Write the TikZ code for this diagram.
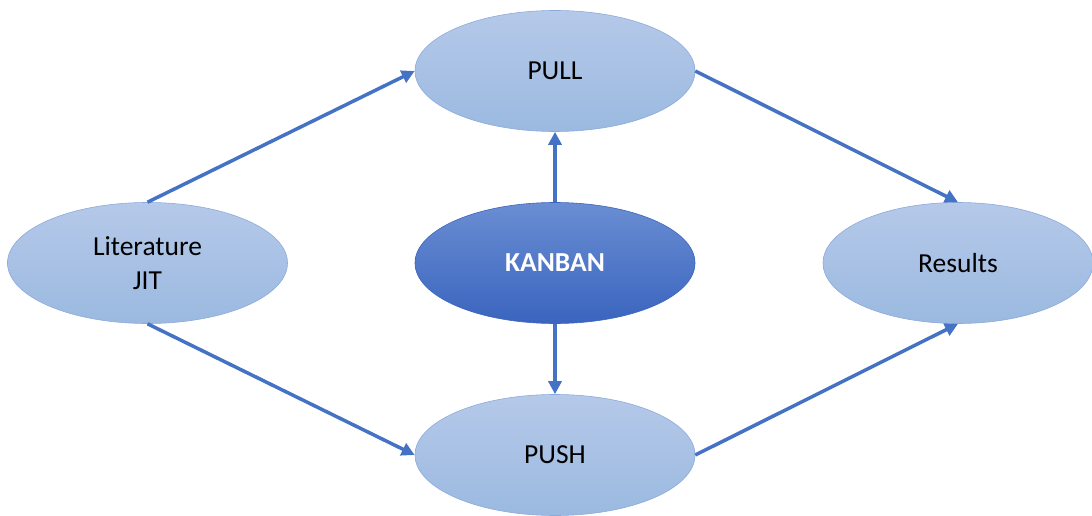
\documentclass[tikz,border=0pt]{standalone}
\usepackage{fontspec}
\setmainfont{Carlito}
\usetikzlibrary{shapes.geometric,arrows.meta}
\definecolor{lighttop}{HTML}{B5C9E9}
\definecolor{lightbot}{HTML}{9BB9E0}
\definecolor{lightedge}{HTML}{8CAADC}
\definecolor{darktop}{HTML}{6A8ED3}
\definecolor{darkbot}{HTML}{3A64BE}
\definecolor{arrowblue}{HTML}{4472C4}
\tikzset{
  lightell/.style={ellipse, minimum width=280pt, minimum height=121pt, inner sep=0pt,
    top color=lighttop, bottom color=lightbot, draw=lightedge, line width=0.6pt,
    font=\fontsize{27.5}{34}\selectfont, align=center, text=black},
  darkell/.style={ellipse, minimum width=280pt, minimum height=121pt, inner sep=0pt,
    top color=darktop, bottom color=darkbot, draw=darkbot, line width=0.6pt,
    font=\fontsize{27.5}{34}\selectfont\bfseries, align=center, text=white},
  conn/.style={draw=arrowblue, line width=3.5pt, -{Triangle[length=13pt,width=13pt]}}
}
\begin{document}
\begin{tikzpicture}[x=1pt,y=-1pt]
\useasboundingbox (0,0) rectangle (1092,516);
\node[lightell] (lit) at (147.5,263) {Literature\\JIT};
\node[lightell] (pull) at (555,71) {PULL};
\node[darkell] (kanban) at (555,263) {KANBAN};
\node[lightell, minimum width=270pt] (res) at (958,263) {Results};
\node[lightell] (push) at (555,455) {PUSH};
\draw[conn] (lit.north) -- (pull.west);
\draw[conn] (lit.south) -- (push.west);
\draw[conn] (pull.east) -- (res.north);
\draw[conn] (push.east) -- (res.south);
\draw[conn] (kanban.north) -- (pull.south);
\draw[conn] (kanban.south) -- (push.north);
\end{tikzpicture}
\end{document}
